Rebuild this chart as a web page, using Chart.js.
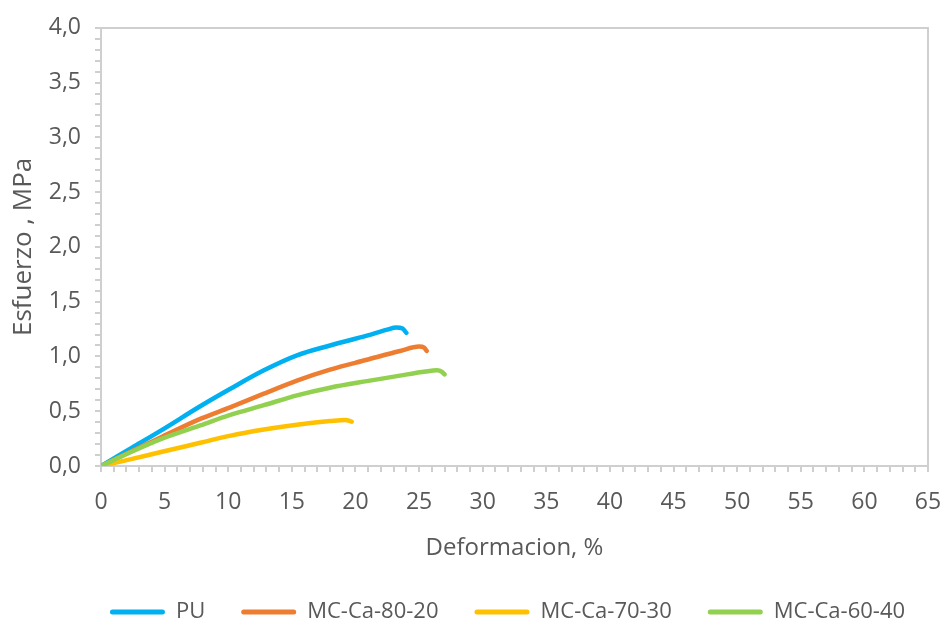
<!DOCTYPE html>
<html>
<head>
<meta charset="utf-8">
<script src="https://cdn.jsdelivr.net/npm/chart.js@4.4.1/dist/chart.umd.min.js"></script>
<style>
  html, body { margin: 0; padding: 0; background: #ffffff; }
  #wrap { width: 946px; height: 625px; }
</style>
</head>
<body>
<div id="wrap"><canvas id="chart" width="946" height="625"></canvas></div>
<script>
// Stress–strain curves (strain in %, stress in MPa)
const seriesNames  = ['PU', 'MC-Ca-80-20', 'MC-Ca-70-30', 'MC-Ca-60-40'];
const seriesColors = ['#00B0F0', '#ED7D31', '#FFC000', '#92D050'];

const strainPU = [0, 2.4, 4.8, 7.8, 10.1, 12.8, 15.4, 18.0, 20.9, 22.5, 23.2, 23.7, 24.0];
const stressPU = [0, 0.165, 0.33, 0.545, 0.70, 0.873, 1.01, 1.10, 1.19, 1.245, 1.265, 1.255, 1.215];

const strain8020 = [0, 2.4, 4.8, 7.8, 10.1, 12.8, 15.4, 18.0, 20.9, 23.5, 25.0, 25.4, 25.6];
const stress8020 = [0, 0.135, 0.267, 0.43, 0.533, 0.66, 0.78, 0.88, 0.97, 1.05, 1.09, 1.08, 1.05];

const strain7030 = [0, 2.2, 4.8, 7.8, 10.1, 12.8, 15.4, 18.0, 19.2, 19.7];
const stress7030 = [0, 0.058, 0.13, 0.212, 0.275, 0.333, 0.377, 0.41, 0.421, 0.405];

const strain6040 = [0, 2.4, 4.8, 7.8, 10.1, 12.8, 15.4, 18.0, 20.9, 23.5, 25.5, 26.4, 26.8, 27.0];
const stress6040 = [0, 0.13, 0.25, 0.37, 0.464, 0.555, 0.645, 0.715, 0.775, 0.825, 0.862, 0.873, 0.86, 0.836];

const xMin = 0, xMax = 65, xStep = 1, xLabelEvery = 5;
const yMin = 0, yMax = 4, yStep = 0.1, yLabelEvery = 0.5;
const xTitle = 'Deformacion, %';
const yTitle = 'Esfuerzo , MPa';

const FONT = "'Open Sans', 'DejaVu Sans', sans-serif";
const TEXT = '#595959';
const AXIS = '#cfcfcf';

const strains = [strainPU, strain8020, strain7030, strain6040];
const stresses = [stressPU, stress8020, stress7030, stress6040];
// later series sit on top of earlier ones
const drawOrder = [3, 2, 1, 0];

const datasets = seriesNames.map((name, k) => ({
  label: name,
  data: strains[k].map((x, i) => ({ x: x, y: stresses[k][i] })),
  borderColor: seriesColors[k],
  backgroundColor: seriesColors[k],
  borderWidth: 4.5,
  borderCapStyle: 'round',
  borderJoinStyle: 'round',
  pointRadius: 0,
  pointHoverRadius: 0,
  fill: false,
  cubicInterpolationMode: 'monotone',
  order: drawOrder[k]
}));

const onMultiple = (v, m) => Math.abs(v / m - Math.round(v / m)) < 1e-6;

new Chart(document.getElementById('chart'), {
  type: 'line',
  data: { datasets: datasets },
  options: {
    responsive: false,
    animation: false,
    devicePixelRatio: 1,
    // the legend row spans left..(width + 25) so that it centres under the plot
    layout: { padding: { left: 44, right: -25, top: 0, bottom: 0 } },
    plugins: {
      tooltip: { enabled: false },
      legend: {
        position: 'bottom',
        align: 'center',
        maxHeight: 60,
        labels: {
          boxWidth: 55,
          boxHeight: 5,
          padding: 36,
          color: TEXT,
          font: { family: FONT, size: 22 },
          useBorderRadius: true,
          borderRadius: 2.5,
          sort: (a, b) => a.datasetIndex - b.datasetIndex,
          generateLabels: (chart) =>
            Chart.defaults.plugins.legend.labels.generateLabels(chart)
              .map(item => Object.assign(item, { lineWidth: 0 }))
        }
      }
    },
    scales: {
      x: {
        type: 'linear',
        position: 'bottom',
        min: xMin, max: xMax,
        afterFit: (s) => { s.height = 99; },
        ticks: {
          stepSize: xStep,
          autoSkip: false,
          maxRotation: 0, minRotation: 0,
          padding: 2,
          color: TEXT,
          font: { family: FONT, size: 23, lineHeight: 2.45 },
          callback: (v) => onMultiple(v, xLabelEvery) ? String(Math.round(v)) : ''
        },
        grid: { drawOnChartArea: false, drawTicks: true, tickLength: 6, color: AXIS, lineWidth: 2 },
        border: { color: AXIS, width: 2 },
        title: {
          display: true, text: xTitle, color: TEXT,
          font: { family: FONT, size: 24 },
          padding: { top: 0, bottom: 2 }
        }
      },
      y: {
        type: 'linear',
        position: 'left',
        min: yMin, max: yMax,
        afterFit: (s) => { s.width = 57; },
        ticks: {
          stepSize: yStep,
          autoSkip: false,
          padding: 14,
          color: TEXT,
          font: { family: FONT, size: 23 },
          callback: (v) => onMultiple(v, yLabelEvery) ? v.toFixed(1).replace('.', ',') : ''
        },
        grid: { drawOnChartArea: false, drawTicks: true, tickLength: 6, color: AXIS, lineWidth: 2 },
        border: { color: AXIS, width: 2 },
        title: {
          display: true, text: yTitle, color: TEXT,
          font: { family: FONT, size: 26 },
          padding: { top: -36, bottom: 0 }
        }
      },
      xTop: {
        type: 'linear',
        position: 'top',
        min: xMin, max: xMax,
        afterFit: (s) => { s.height = 26; },
        ticks: { display: false },
        grid: { display: false },
        border: { color: AXIS, width: 2 }
      },
      yRight: {
        type: 'linear',
        position: 'right',
        min: yMin, max: yMax,
        afterFit: (s) => { s.width = 43; },
        ticks: { display: false },
        grid: { display: false },
        border: { color: AXIS, width: 2 }
      }
    }
  }
});
</script>
</body>
</html>
